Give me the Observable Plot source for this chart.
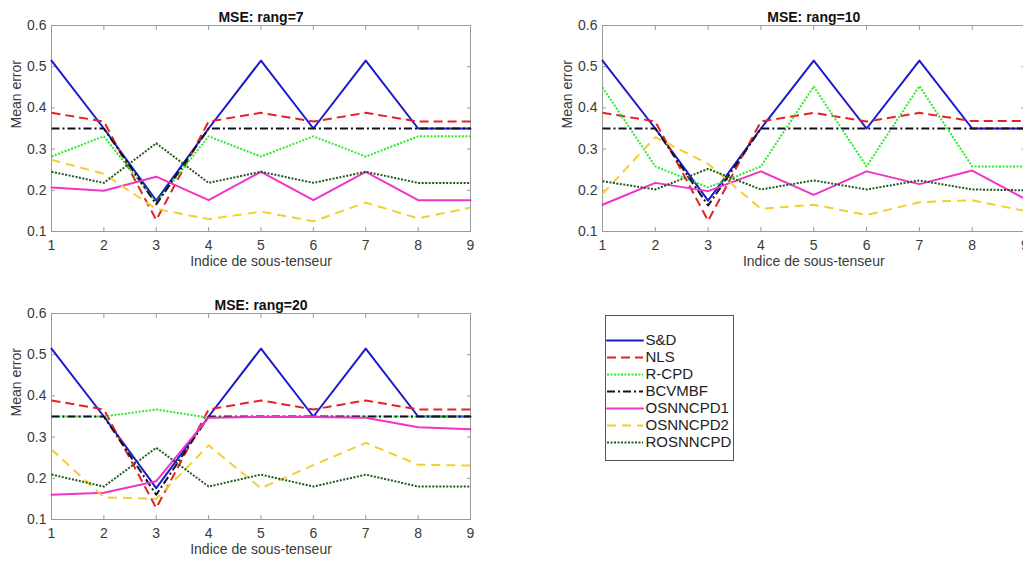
<!DOCTYPE html>
<html>
<head>
<meta charset="utf-8">
<script src="https://cdn.jsdelivr.net/npm/d3@7"></script>
<script src="https://cdn.jsdelivr.net/npm/@observablehq/plot@0.6"></script>
<style>
  html, body { margin: 0; padding: 0; background: #fff; }
  body { width: 1023px; height: 562px; overflow: hidden; position: relative; }
  .panel { position: absolute; }
  .panel svg { max-width: none !important; }
</style>
</head>
<body>
<div id="p1" class="panel" style="left:0px;top:0px;width:520px"></div>
<div id="p2" class="panel" style="left:551px;top:0px;width:525px"></div>
<div id="p3" class="panel" style="left:0px;top:288px;width:520px"></div>
<div id="leg" class="panel" style="left:604px;top:314px;width:130px"></div>
<script>
// ---- data ----
const xTicks = [1, 2, 3, 4, 5, 6, 7, 8, 9];
const yTicks = [0.1, 0.2, 0.3, 0.4, 0.5, 0.6];
const seriesNames = ["S&D", "NLS", "R-CPD", "BCVMBF", "OSNNCPD1", "OSNNCPD2", "ROSNNCPD"];
const titles = ["MSE: rang=7", "MSE: rang=10", "MSE: rang=20"];

// rang = 7
const sd7   = [0.515, 0.35, 0.175, 0.35, 0.515, 0.35, 0.515, 0.35, 0.35];
const nls7  = [0.388, 0.367, 0.128, 0.367, 0.388, 0.367, 0.388, 0.367, 0.367];
const rcpd7 = [0.282, 0.331, 0.170, 0.331, 0.282, 0.331, 0.282, 0.331, 0.331];
const bcv7  = [0.35, 0.35, 0.166, 0.35, 0.35, 0.35, 0.35, 0.35, 0.35];
const os1_7 = [0.207, 0.199, 0.233, 0.176, 0.245, 0.176, 0.245, 0.176, 0.176];
const os2_7 = [0.274, 0.240, 0.155, 0.130, 0.148, 0.125, 0.170, 0.132, 0.158];
const ros7  = [0.245, 0.218, 0.314, 0.218, 0.245, 0.218, 0.245, 0.218, 0.218];

// rang = 10
const sd10   = [0.515, 0.35, 0.175, 0.35, 0.515, 0.35, 0.515, 0.35, 0.35];
const nls10  = [0.388, 0.367, 0.126, 0.367, 0.388, 0.367, 0.388, 0.368, 0.368];
const rcpd10 = [0.450, 0.258, 0.207, 0.258, 0.452, 0.258, 0.453, 0.258, 0.258];
const bcv10  = [0.35, 0.35, 0.163, 0.35, 0.35, 0.35, 0.35, 0.35, 0.35];
const os1_10 = [0.165, 0.218, 0.198, 0.246, 0.189, 0.246, 0.215, 0.248, 0.179];
const os2_10 = [0.191, 0.329, 0.264, 0.155, 0.165, 0.140, 0.171, 0.176, 0.150];
const ros10  = [0.222, 0.202, 0.252, 0.202, 0.224, 0.202, 0.224, 0.202, 0.200];

// rang = 20
const sd20   = [0.515, 0.35, 0.176, 0.35, 0.515, 0.35, 0.515, 0.35, 0.35];
const nls20  = [0.389, 0.367, 0.128, 0.367, 0.389, 0.367, 0.389, 0.367, 0.367];
const rcpd20 = [0.35, 0.35, 0.367, 0.347, 0.35, 0.35, 0.35, 0.35, 0.35];
const bcv20  = [0.35, 0.35, 0.160, 0.35, 0.35, 0.35, 0.35, 0.35, 0.35];
const os1_20 = [0.160, 0.165, 0.193, 0.347, 0.349, 0.349, 0.347, 0.324, 0.319];
const os2_20 = [0.270, 0.154, 0.150, 0.280, 0.176, 0.232, 0.286, 0.233, 0.231];
const ros20  = [0.209, 0.180, 0.274, 0.180, 0.209, 0.180, 0.209, 0.180, 0.180];

// ---- styles ----
const colors = ["#1a1acc", "#e42222", "#2ee82e", "#111122", "#f233c6", "#f2cf2c", "#1f5a1f"];
const dashes = [null, "9,5", "2,1.5", "8,3,2,3", null, "9,6", "2,1.5"];
const caps   = ["round", "butt", "butt", "butt", "round", "butt", "butt"];

const FONT = "'Liberation Sans', Arial, Helvetica, sans-serif";

function panel(title, seriesVals, width, marginRight) {
  const marks = [
    Plot.frame({stroke: "#9a9a9a"}),
    // tick labels
    Plot.axisX({ticks: xTicks, anchor: "bottom", tickSize: 0, tickPadding: 9, label: null, tickFormat: d => String(d), fill: "#3a3a3a"}),
    Plot.axisY({ticks: yTicks, anchor: "left", tickSize: 0, tickPadding: 5, label: null, tickFormat: d3.format(".1f"), fill: "#3a3a3a"}),
    // inward ticks on all four sides
    Plot.axisX({ticks: xTicks, anchor: "bottom", tickSize: -4, label: null, tickFormat: () => "", stroke: "#9a9a9a"}),
    Plot.axisX({ticks: xTicks, anchor: "top", tickSize: -4, label: null, tickFormat: () => "", stroke: "#9a9a9a"}),
    Plot.axisY({ticks: yTicks, anchor: "left", tickSize: -4, label: null, tickFormat: () => "", stroke: "#9a9a9a"}),
    Plot.axisY({ticks: yTicks, anchor: "right", tickSize: -4, label: null, tickFormat: () => "", stroke: "#9a9a9a"})
  ];
  seriesVals.forEach((vals, i) => {
    const rows = xTicks.map((x, j) => ({x, y: vals[j]}));
    marks.push(Plot.line(rows, {
      x: "x", y: "y", stroke: colors[i], strokeWidth: 2,
      strokeDasharray: dashes[i] || undefined, strokeLinecap: caps[i], strokeLinejoin: "round"
    }));
  });
  marks.push(
    Plot.text([title], {text: d => d, frameAnchor: "top", dy: -13, fontWeight: "bold", fill: "#111"}),
    Plot.text(["Indice de sous-tenseur"], {text: d => d, frameAnchor: "bottom", dy: 34, fill: "#3a3a3a"}),
    Plot.text(["Mean error"], {text: d => d, frameAnchor: "left", dx: -35, rotate: -90, fill: "#3a3a3a"})
  );
  return Plot.plot({
    width, height: 280,
    marginLeft: 51, marginRight, marginTop: 25, marginBottom: 49,
    style: {fontFamily: FONT, fontSize: "14px", background: "white", overflow: "visible"},
    x: {domain: [1, 9], axis: null},
    y: {domain: [0.1, 0.6], axis: null},
    marks
  });
}

document.getElementById("p1").appendChild(panel(titles[0], [sd7, nls7, rcpd7, bcv7, os1_7, os2_7, ros7], 520, 50));
document.getElementById("p2").appendChild(panel(titles[1], [sd10, nls10, rcpd10, bcv10, os1_10, os2_10, ros10], 525, 51.5));
document.getElementById("p3").appendChild(panel(titles[2], [sd20, nls20, rcpd20, bcv20, os1_20, os2_20, ros20], 520, 50));

// ---- legend ----
const legMarks = [Plot.frame({stroke: "#555", fill: "white"})];
seriesNames.forEach((s, i) => {
  legMarks.push(Plot.ruleY([s], {
    y: d => d, stroke: colors[i], strokeWidth: 2,
    strokeDasharray: dashes[i] || undefined, strokeLinecap: caps[i],
    insetLeft: 2, insetRight: 90
  }));
});
legMarks.push(Plot.text(seriesNames, {y: d => d, text: d => d, frameAnchor: "left", dx: 40, textAnchor: "start", fill: "#222"}));
document.getElementById("leg").appendChild(Plot.plot({
  width: 130, height: 147, margin: 1,
  style: {fontFamily: FONT, fontSize: "15px", background: "white"},
  x: {domain: [0, 1], axis: null},
  y: {type: "point", domain: seriesNames, range: [15, 138], axis: null},
  marks: legMarks
}));
</script>
</body>
</html>
